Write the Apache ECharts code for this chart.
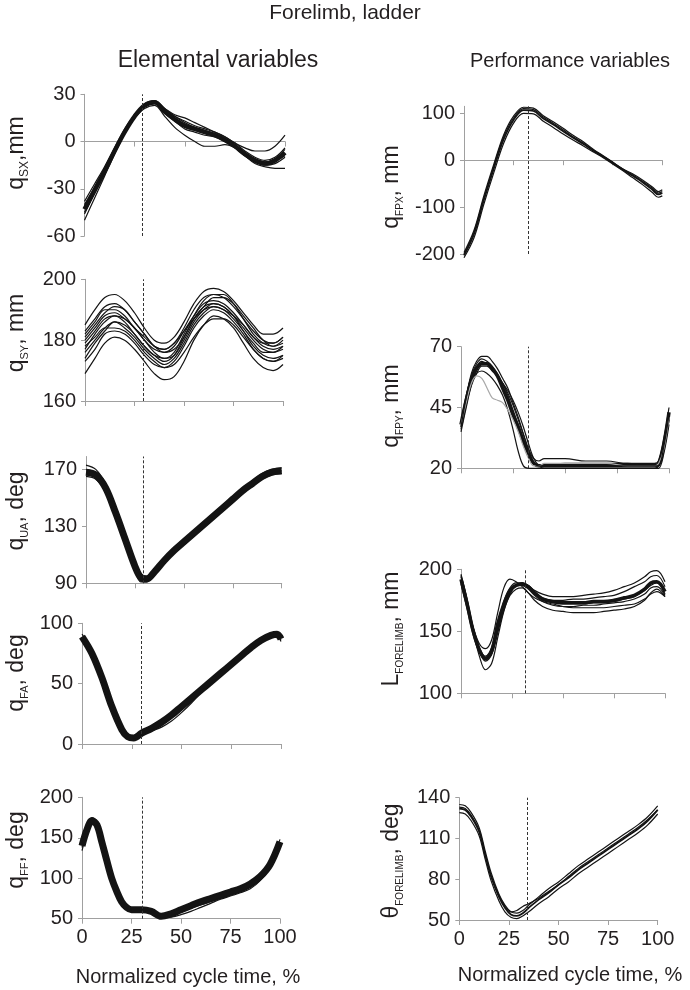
<!DOCTYPE html>
<html>
<head>
<meta charset="utf-8">
<script src="https://cdn.jsdelivr.net/npm/echarts@6/dist/echarts.min.js"></script>
<style>
  html, body { margin: 0; padding: 0; background: #fff; }
  #main { width: 690px; height: 990px; }
</style>
</head>
<body>
<div id="main"></div>
<script>
// ---- data (x = % of cycle) ----
var X_TICKS = [0, 25, 50, 75, 100];

// q_SX, mm
var X_SX = [0, 5, 10, 15, 20, 25, 30, 35, 40, 45, 50, 55, 60, 65, 70, 75, 80, 85, 90, 95, 100];
var SX = [
  [-43, -31, -19, -6, 6, 16, 23, 25, 19, 14, 10, 8, 6, 4, 1, -3, -8, -12, -14, -12, -7],
  [-38, -27, -16, -4, 8, 17, 24, 26, 21, 16, 12, 9, 7, 5, 2, -2, -7, -11, -13, -11, -5],
  [-50, -36, -22, -8, 5, 15, 22, 24, 18, 13, 8, 6, 4, 3, 0, -4, -9, -13, -15, -14, -10],
  [-40, -29, -17, -5, 7, 17, 23, 25, 21, 17, 15, 12, 9, 6, 3, -1, -4, -6, -6, -3, 4],
  [-46, -33, -20, -7, 6, 15, 21, 23, 16, 9, 4, 0, -3, -3, -2, -4, -9, -14, -16, -17, -17],
  [-45, -33, -20, -6, 6, 16, 23, 25, 20, 15, 11, 8, 7, 5, 2, -2, -7, -11, -13, -12, -9],
  [-41, -30, -18, -5, 7, 16, 23, 25, 20, 16, 13, 10, 8, 6, 3, -1, -6, -10, -12, -10, -4]
];
var TICKS_SX = [-60, -30, 0, 30];

// q_SY, mm
var X_SY = [0, 5, 10, 15, 20, 25, 30, 35, 40, 45, 50, 55, 60, 65, 70, 75, 80, 85, 90, 95, 100];
var SY = [
  [180, 184, 188, 189, 187, 184, 180, 177, 176, 178, 183, 188, 192, 193, 192, 189, 185, 181, 178, 177, 178],
  [185, 190, 194, 195, 193, 189, 184, 180, 179, 181, 186, 192, 196, 197, 196, 193, 189, 185, 182, 182, 184],
  [169, 174, 179, 181, 180, 177, 173, 169, 167, 168, 173, 180, 185, 188, 187, 184, 179, 174, 171, 170, 172],
  [176, 180, 184, 186, 184, 181, 177, 174, 172, 174, 179, 185, 189, 191, 190, 187, 183, 178, 175, 174, 175],
  [183, 187, 191, 192, 190, 186, 182, 178, 177, 179, 184, 190, 194, 195, 194, 191, 187, 183, 180, 179, 181],
  [178, 181, 184, 184, 183, 180, 176, 173, 171, 172, 176, 181, 185, 187, 187, 185, 181, 177, 174, 173, 175],
  [173, 177, 182, 183, 182, 179, 175, 172, 171, 173, 178, 184, 188, 190, 189, 186, 182, 177, 174, 173, 174],
  [181, 185, 189, 191, 190, 186, 182, 178, 176, 177, 181, 187, 191, 194, 194, 192, 188, 184, 180, 178, 179],
  [177, 182, 186, 188, 187, 184, 180, 176, 174, 175, 180, 186, 190, 192, 191, 188, 184, 180, 177, 176, 177],
  [174, 179, 183, 186, 185, 182, 178, 175, 173, 175, 181, 187, 191, 192, 191, 188, 183, 179, 176, 176, 178],
  [179, 183, 187, 188, 186, 182, 178, 175, 174, 176, 182, 188, 193, 195, 195, 192, 187, 182, 179, 178, 180],
  [182, 186, 190, 190, 188, 184, 181, 178, 177, 179, 183, 187, 190, 191, 190, 188, 185, 181, 179, 179, 181]
];
var TICKS_SY = [160, 180, 200];

// q_UA, deg
var X_UA = [0, 5, 10, 15, 20, 25, 28, 31, 35, 40, 45, 50, 55, 60, 65, 70, 75, 80, 85, 90, 95, 100];
var UA = [
  [168, 166, 157, 140, 121, 102, 94, 93, 98, 106, 113, 119, 125, 131, 137, 143, 149, 155, 160, 165, 168, 169],
  [173, 170, 160, 143, 124, 105, 97, 95, 100, 108, 115, 121, 127, 133, 139, 145, 151, 157, 162, 167, 170, 171],
  [165, 163, 154, 137, 118, 99, 91, 91, 96, 104, 111, 117, 123, 129, 135, 141, 147, 153, 158, 163, 166, 167],
  [170, 167, 158, 141, 122, 103, 95, 92, 97, 105, 112, 118, 124, 130, 136, 142, 148, 154, 159, 164, 167, 169]
];
var TICKS_UA = [90, 130, 170];

// q_FA, deg
var X_FA = [0, 5, 10, 15, 20, 23, 26, 30, 35, 40, 45, 50, 55, 60, 65, 70, 75, 80, 85, 90, 95, 98, 100];
var FA = [
  [89, 75, 55, 31, 12, 6, 5, 9, 13, 18, 24, 31, 38, 45, 52, 59, 66, 73, 80, 86, 90, 91, 87],
  [91, 78, 58, 34, 14, 8, 7, 11, 15, 20, 26, 33, 40, 47, 54, 61, 68, 75, 82, 88, 91, 92, 90],
  [86, 72, 52, 28, 10, 4, 4, 7, 11, 16, 22, 29, 36, 43, 50, 57, 64, 71, 78, 84, 88, 89, 85],
  [88, 74, 54, 30, 11, 5, 5, 8, 11, 14, 19, 26, 34, 43, 51, 59, 66, 73, 79, 85, 89, 90, 86]
];
var TICKS_FA = [0, 50, 100];

// q_FF, deg
var X_FF = [0, 2.5, 5, 7.5, 10, 12.5, 15, 17.5, 20, 22.5, 25, 30, 35, 40, 45, 50, 55, 60, 65, 70, 75, 80, 85, 90, 95, 100];
var FF = [
  [140, 160, 171, 166, 145, 122, 100, 84, 71, 64, 61, 61, 59, 53, 56, 61, 66, 71, 75, 79, 83, 87, 93, 102, 117, 145],
  [146, 165, 175, 170, 149, 126, 104, 87, 73, 65, 62, 62, 60, 54, 58, 63, 68, 73, 77, 81, 85, 89, 95, 104, 119, 148],
  [134, 155, 167, 162, 141, 118, 96, 80, 68, 61, 59, 60, 58, 52, 54, 58, 63, 67, 71, 75, 79, 83, 89, 98, 113, 141],
  [138, 158, 169, 164, 143, 120, 98, 82, 69, 62, 59, 59, 57, 51, 52, 55, 59, 64, 69, 74, 78, 82, 87, 97, 113, 140]
];
var TICKS_FF = [50, 100, 150, 200];

// q_FPX, mm
var X_FPX = [0, 5, 10, 15, 20, 25, 30, 35, 40, 45, 50, 55, 60, 65, 70, 75, 80, 85, 90, 95, 98, 100];
var FPX = [
  [-203, -158, -85, -18, 45, 86, 107, 105, 89, 76, 62, 48, 35, 21, 8, -6, -20, -33, -47, -63, -73, -70],
  [-197, -150, -76, -9, 54, 94, 113, 111, 95, 82, 68, 53, 40, 24, 10, -4, -18, -29, -42, -57, -67, -63],
  [-208, -166, -94, -27, 36, 79, 100, 99, 83, 70, 56, 43, 31, 18, 6, -8, -22, -37, -52, -69, -79, -76],
  [-200, -154, -81, -13, 50, 90, 110, 108, 92, 79, 65, 50, 37, 22, 9, -5, -19, -31, -45, -60, -70, -67]
];
var TICKS_FPX = [-200, -100, 0, 100];

// q_FPY, mm
var X_FPY = [0, 2.5, 5, 7.5, 10, 12.5, 15, 17.5, 20, 22.5, 25, 27.5, 30, 32.5, 35, 37.5, 40, 50, 60, 70, 80, 90, 93, 95, 97.5, 100];
var FPY = [
  [38, 48, 56, 61, 63, 63, 61, 58, 53, 48, 42, 37, 31, 26, 22, 21, 21, 21, 21, 21, 21, 21, 21, 22, 30, 43],
  [36, 49, 59, 64, 66, 66, 64, 61, 57, 53, 47, 41, 34, 27, 22, 21, 21, 22, 22, 22, 22, 21, 21, 21, 27, 40],
  [37, 47, 55, 59, 60, 59, 57, 54, 50, 44, 36, 27, 21, 20, 20, 20, 20, 20, 20, 20, 20, 20, 20, 21, 28, 41],
  [39, 50, 58, 62, 64, 63, 61, 58, 55, 51, 46, 40, 34, 28, 24, 23, 24, 24, 23, 23, 22, 22, 22, 23, 32, 45],
  [35, 45, 54, 59, 62, 62, 60, 58, 55, 52, 48, 43, 37, 30, 24, 21, 20, 20, 20, 20, 20, 20, 20, 20, 26, 38],
  [38, 47, 55, 58, 57, 53, 49, 48, 47, 44, 40, 35, 29, 24, 21, 21, 22, 22, 22, 22, 21, 21, 21, 22, 28, 41],
  [37, 49, 58, 63, 65, 64, 62, 59, 55, 50, 44, 38, 32, 26, 22, 21, 21, 21, 21, 21, 21, 21, 21, 21, 29, 42]
];
var TICKS_FPY = [20, 45, 70];

// L_FORELIMB, mm
var X_LF = [0, 3, 6, 9, 12, 15, 18, 21, 24, 27, 30, 33, 36, 40, 45, 50, 55, 60, 65, 70, 75, 80, 85, 90, 93, 96, 100];
var LF = [
  [192, 172, 150, 135, 128, 134, 156, 172, 183, 187, 188, 186, 181, 176, 174, 173, 173, 173, 174, 174, 175, 177, 179, 184, 189, 190, 182],
  [195, 175, 150, 130, 119, 124, 145, 166, 180, 187, 189, 186, 181, 176, 173, 172, 172, 172, 173, 173, 174, 176, 178, 183, 187, 189, 180],
  [190, 172, 153, 140, 136, 143, 165, 185, 192, 190, 186, 181, 177, 174, 172, 170, 169, 169, 169, 169, 170, 171, 172, 176, 180, 182, 178],
  [194, 174, 151, 136, 130, 137, 156, 174, 185, 189, 189, 187, 183, 180, 178, 178, 178, 179, 180, 181, 183, 186, 189, 194, 198, 199, 190],
  [188, 168, 147, 133, 126, 131, 149, 167, 179, 184, 185, 181, 175, 170, 167, 166, 165, 165, 165, 166, 167, 168, 170, 175, 181, 184, 178],
  [196, 176, 153, 137, 129, 133, 150, 169, 181, 187, 189, 187, 182, 177, 175, 175, 176, 176, 177, 178, 179, 182, 186, 190, 194, 195, 186],
  [189, 170, 149, 134, 127, 132, 151, 170, 182, 187, 187, 184, 179, 174, 171, 170, 170, 171, 171, 172, 173, 174, 176, 180, 185, 186, 179]
];
var TICKS_LF = [100, 150, 200];

// theta_FORELIMB, deg
var X_TH = [0, 3, 6, 10, 13, 16, 20, 23, 26, 29, 32, 35, 40, 45, 50, 55, 60, 65, 70, 75, 80, 85, 90, 95, 100];
var TH = [
  [132, 131, 126, 115, 98, 82, 67, 59, 54, 53, 55, 59, 65, 70, 76, 81, 87, 92, 97, 102, 107, 112, 117, 123, 131],
  [135, 134, 129, 118, 101, 85, 69, 61, 56, 55, 57, 61, 67, 73, 78, 84, 90, 95, 100, 105, 110, 115, 120, 126, 134],
  [129, 128, 123, 112, 95, 79, 64, 56, 52, 51, 53, 56, 62, 67, 73, 78, 84, 89, 94, 99, 104, 109, 114, 120, 128],
  [133, 132, 127, 116, 99, 83, 68, 60, 56, 57, 60, 62, 66, 71, 76, 82, 88, 93, 98, 103, 108, 113, 118, 124, 131]
];
var TICKS_TH = [50, 80, 110, 140];

// dashed marker (x, %) per panel
var DASH_LEFT = [29, 29.5, 29.5, 30, 30.5];
var DASH_RIGHT = [32.4, 32.5, 31.4, 34.3];

// ---- layout ----
var FONT = "'Liberation Sans', Arial, sans-serif";
var INK = '#231f20';
var AXIS = '#a0a0a0';

var panels = [
  { g: [84.5, 94.3, 200.5, 141.7], x: X_SX, tr: SX, y: [-60, 30], ticks: TICKS_SX, dash: DASH_LEFT[0], core: 4.5, gray: [] },
  { g: [85, 279.3, 198, 121.7], x: X_SY, tr: SY, y: [160, 200], ticks: TICKS_SY, dash: DASH_LEFT[1], core: 1.2, gray: [] },
  { g: [86, 456.5, 195.7, 126.8], x: X_UA, tr: UA, y: [90, 179], ticks: TICKS_UA, dash: DASH_LEFT[2], core: 7, gray: [] },
  { g: [82, 623.3, 199, 120.7], x: X_FA, tr: FA, y: [0, 100], ticks: TICKS_FA, dash: DASH_LEFT[3], core: 7, gray: [] },
  { g: [82, 797.3, 198, 121.4], x: X_FF, tr: FF, y: [50, 200], ticks: TICKS_FF, dash: DASH_LEFT[4], core: 7, gray: [], xl: true },
  { g: [464, 106.3, 198.3, 147.7], x: X_FPX, tr: FPX, y: [-200, 115], ticks: TICKS_FPX, dash: DASH_RIGHT[0], core: 1.8, gray: [] },
  { g: [461, 346.7, 208, 121.6], x: X_FPY, tr: FPY, y: [20, 70], ticks: TICKS_FPY, dash: DASH_RIGHT[1], core: 3.5, gray: [5] },
  { g: [461, 569.3, 204, 124], x: X_LF, tr: LF, y: [100, 200], ticks: TICKS_LF, dash: DASH_RIGHT[2], core: 3.5, gray: [] },
  { g: [459.3, 797.7, 198.4, 122.3], x: X_TH, tr: TH, y: [50, 140], ticks: TICKS_TH, dash: DASH_RIGHT[3], core: 1.8, gray: [], xl: true }
];

var grids = [], xAxes = [], yAxes = [], series = [];
panels.forEach(function (p, i) {
  grids.push({ left: p.g[0], top: p.g[1], width: p.g[2], height: p.g[3], containLabel: false });
  xAxes.push({
    type: 'value', gridIndex: i, min: 0, max: 100, interval: 25,
    axisLine: { lineStyle: { color: AXIS, width: 1 } },
    axisTick: { show: true, length: 5, lineStyle: { color: AXIS } },
    splitLine: { show: false },
    axisLabel: { show: !!p.xl, margin: 9, color: INK, fontSize: 20, fontFamily: FONT }
  });
  yAxes.push({
    type: 'value', gridIndex: i, min: p.y[0], max: p.y[1],
    axisLine: { show: true, lineStyle: { color: AXIS, width: 1 } },
    axisTick: { show: true, length: 4, lineStyle: { color: AXIS }, customValues: p.ticks },
    splitLine: { show: false },
    axisLabel: { margin: 9, color: INK, fontSize: 20, fontFamily: FONT, customValues: p.ticks }
  });
  p.tr.forEach(function (tr, k) {
    var s = {
      type: 'line', xAxisIndex: i, yAxisIndex: i,
      data: p.x.map(function (xv, j) { return [xv, tr[j]]; }),
      showSymbol: false, symbol: 'none', smooth: 0.35, clip: false, silent: true,
      lineStyle: { color: p.gray.indexOf(k) >= 0 ? '#a8a8a8' : '#141414', width: k === 0 ? p.core : 1.2 }
    };
    if (k === 0) {
      s.markLine = {
        symbol: 'none', silent: true, animation: false,
        label: { show: false },
        lineStyle: { type: [3, 2], color: '#333', width: 1 },
        data: [{ xAxis: p.dash }]
      };
    }
    series.push(s);
  });
});

function yName(x, y, main, sub, unit, subSize) {
  return {
    type: 'text', x: x, y: y, rotation: Math.PI / 2,
    style: {
      text: '{m|' + main + '}{s|' + sub + '}{m|' + unit + '}',
      align: 'center', verticalAlign: 'middle', fill: INK,
      rich: {
        m: { fontSize: 23, fontFamily: FONT, lineHeight: 27, fill: INK, color: INK },
        s: { fontSize: subSize, fontFamily: FONT, lineHeight: subSize, verticalAlign: 'bottom', fill: INK, color: INK }
      }
    }
  };
}

function label(x, y, text, size) {
  return {
    type: 'text', x: x, y: y,
    style: { text: text, fontSize: size, fontFamily: FONT, fill: INK, align: 'center', verticalAlign: 'middle' }
  };
}

var graphics = [
  label(345, 13, 'Forelimb, ladder', 21),
  label(218, 61, 'Elemental variables', 23),
  label(570, 61, 'Performance variables', 20),
  label(188, 977, 'Normalized cycle time, %', 20),
  label(570, 975, 'Normalized cycle time, %', 20),
  yName(17, 153, 'q', 'SX', ',mm', 12),
  yName(17, 333, 'q', 'SY', ', mm', 11),
  yName(17, 511, 'q', 'UA', ', deg', 11),
  yName(17, 673, 'q', 'FA', ', deg', 11),
  yName(17, 850, 'q', 'FF', ', deg', 11),
  yName(392, 187, 'q', 'FPX', ', mm', 10),
  yName(392, 406, 'q', 'FPY', ', mm', 10),
  yName(392, 629, 'L', 'FORELIMB', ', mm', 10),
  yName(392, 861, '\u03b8', 'FORELIMB', ', deg', 10)
];

var chart = echarts.init(document.getElementById('main'), null, { renderer: 'canvas' });
chart.setOption({
  animation: false,
  backgroundColor: '#fff',
  grid: grids,
  xAxis: xAxes,
  yAxis: yAxes,
  series: series,
  graphic: graphics
});
</script>
</body>
</html>
